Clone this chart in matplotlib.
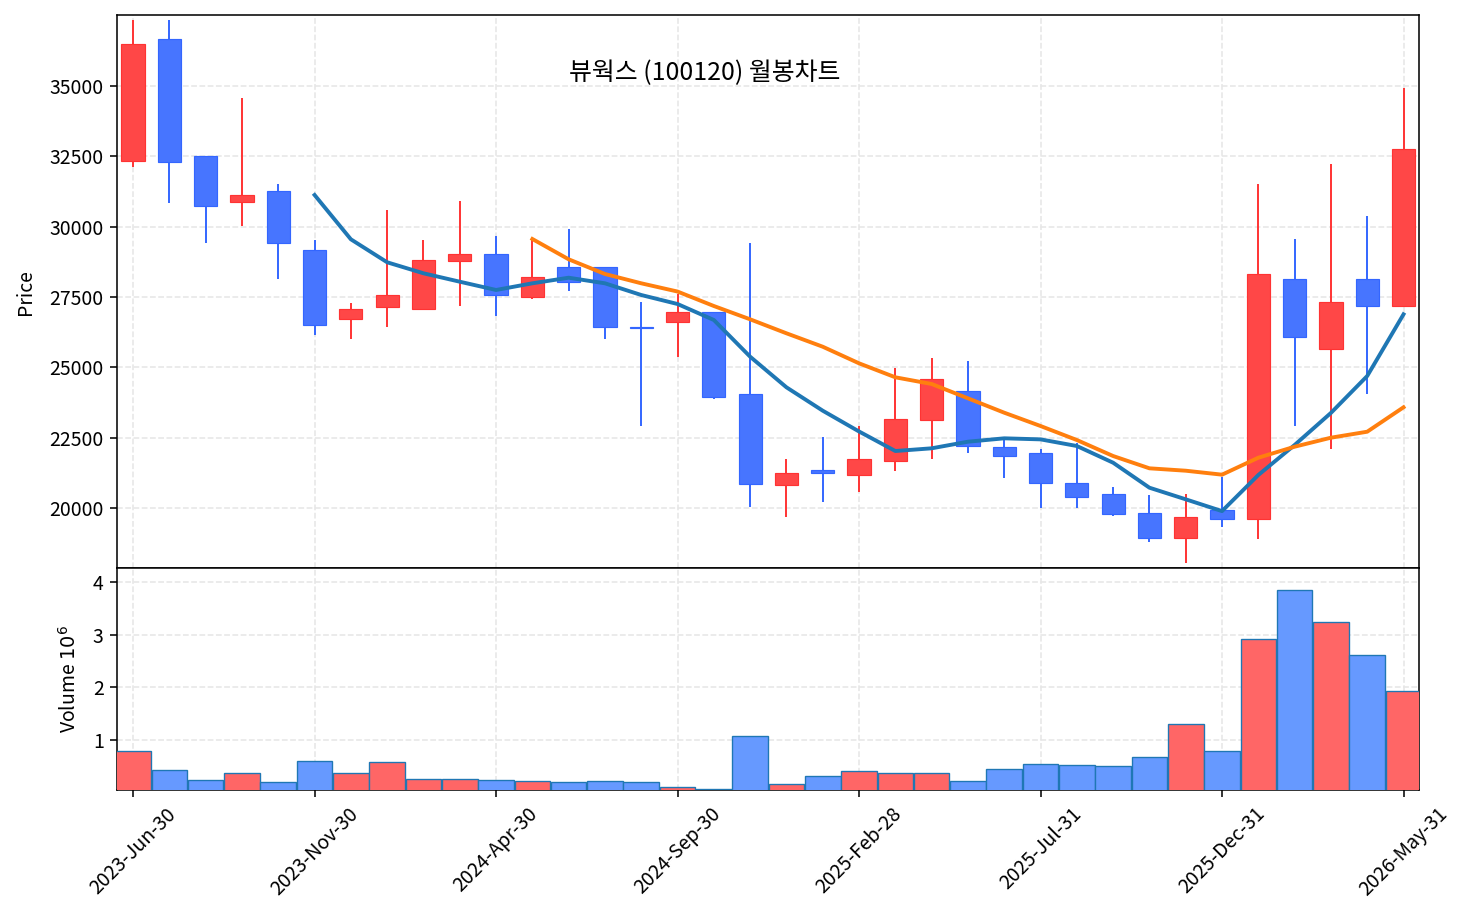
import numpy as np
import pandas as pd
import matplotlib
matplotlib.use('Agg')
import matplotlib.pyplot as plt

plt.rcParams['font.family'] = ['Noto Sans CJK KR', 'DejaVu Sans']
plt.rcParams['axes.unicode_minus'] = False

# monthly candles, 2023-06 .. 2026-05
dates = pd.date_range('2023-06-30', periods=36, freq='ME')
date_labels = [d.strftime('%Y-%b-%d') for d in dates]

opens = [32330, 36660, 32510, 30890, 31260, 29170, 26710, 27160, 27060, 28770,
         29020, 27510, 28560, 28580, 26440, 26600, 26980, 24040, 20820, 21350,
         21170, 21670, 23130, 24170, 22180, 21970, 20900, 20490, 19810, 18920,
         19920, 19610, 28140, 25640, 28150, 27170]
highs = [37350, 37350, 32510, 34570, 31520, 29530, 27280, 30590, 29530, 30910,
         29670, 29590, 29910, 28580, 27320, 27600, 26980, 29430, 21740, 22520,
         22920, 24970, 25320, 25230, 22400, 22100, 22300, 20740, 20460, 20500,
         21110, 31520, 29550, 32230, 30380, 34930]
lows = [32130, 30850, 29430, 30020, 28150, 26150, 26000, 26440, 27060, 27190,
        26840, 27440, 27720, 26000, 22920, 25380, 23880, 20050, 19690, 20220,
        20580, 21330, 21730, 21940, 21080, 20010, 20010, 19730, 18800, 18030,
        19340, 18910, 22920, 22110, 24040, 27170]
closes = [36480, 32290, 30720, 31130, 29410, 26490, 27060, 27560, 28820, 29020,
          27560, 28200, 28030, 26420, 26400, 26980, 23930, 20840, 21230, 21230,
          21730, 23150, 24580, 22200, 21850, 20880, 20390, 19790, 18920, 19690,
          19610, 28310, 26080, 27310, 27170, 32750]
# volume in millions of shares
volumes = [0.786, 0.425, 0.235, 0.368, 0.197, 0.596, 0.368, 0.577, 0.266, 0.266,
           0.235, 0.230, 0.197, 0.216, 0.197, 0.114, 0.065, 1.071, 0.158, 0.311,
           0.406, 0.380, 0.380, 0.216, 0.444, 0.539, 0.520, 0.501, 0.672, 1.299,
           0.786, 2.912, 3.843, 3.235, 2.609, 1.925]

# moving averages as drawn (6 and 12 months)
ma_short_start = 5
ma_short = [31126, 29551, 28734, 28343, 28044, 27750, 27987, 28186, 27987, 27571,
            27251, 26683, 25378, 24290, 23459, 22720, 22026, 22122, 22357, 22477,
            22440, 22204, 21610, 20722, 20309, 19890, 21173, 22240, 23380, 24692,
            26885]
ma_long_start = 11
ma_long = [29562, 28840, 28318, 27987, 27694, 27180, 26707, 26210, 25733, 25143,
           24646, 24408, 23899, 23388, 22915, 22417, 21848, 21411, 21326, 21185,
           21788, 22179, 22499, 22712, 23580]

title = '뷰웍스 (100120) 월봉차트'

o = np.array(opens)
c = np.array(closes)
x = np.arange(len(o))
up = c >= o

up_edge, down_edge = '#ff3333', '#3366ff'
up_fill, down_fill = '#ff4747', '#4775ff'
up_vol, down_vol = '#ff6666', '#6699ff'

fig = plt.figure(figsize=(10.5, 6.6), dpi=140)
W, H = 1470, 924
left, right = 117.3 / W, 1419.3 / W
ax = fig.add_axes([left, 1 - 568.3 / H, right - left, (568.3 - 15) / H])
axv = fig.add_axes([left, 1 - 790 / H, right - left, (790 - 568.3) / H], sharex=ax)

grid_kw = dict(linestyle='--', color='#e6e6e6', linewidth=0.8)

# wicks
ax.vlines(x, lows, highs, colors=np.where(up, up_edge, down_edge), linewidth=1.0, zorder=2)
# bodies
bottoms = np.minimum(o, c)
heights = np.maximum(np.abs(c - o), 30)
ax.bar(x, heights, bottom=bottoms, width=0.64,
       color=np.where(up, up_fill, down_fill),
       edgecolor=np.where(up, up_edge, down_edge), linewidth=0.6, zorder=3)

ax.plot(np.arange(ma_short_start, ma_short_start + len(ma_short)), ma_short,
        color='#1f77b4', linewidth=2.0, zorder=4)
ax.plot(np.arange(ma_long_start, ma_long_start + len(ma_long)), ma_long,
        color='#ff7f0e', linewidth=2.0, zorder=4)

ax.set_ylim(17857, 37524)
ax.set_yticks([20000, 22500, 25000, 27500, 30000, 32500, 35000])
ax.set_ylabel('Price', fontsize=10, labelpad=7)
ax.grid(True, **grid_kw)
ax.set_axisbelow(True)
ax.tick_params(labelbottom=False, labelsize=10)

axv.bar(x, volumes, width=0.98, color=np.where(up, up_vol, down_vol),
        edgecolor='#1f77b4', linewidth=0.7, zorder=3)
axv.set_ylim(0.05, 4.26)
axv.set_yticks([1, 2, 3, 4])
axv.set_ylabel('Volume $10^{6}$', fontsize=10, labelpad=6)
axv.grid(True, **grid_kw)
axv.set_axisbelow(True)
axv.tick_params(labelsize=10)

ticks = list(range(0, len(x), 5))
axv.set_xticks(ticks)
axv.set_xticklabels([date_labels[i] for i in ticks], rotation=45, ha='center')
axv.set_xlim(-0.435, len(x) - 1 + 0.435)

fig.text(705 / W, 1 - 73 / H, title, fontsize=12.8, ha='center', va='center')

fig.savefig('out.png', dpi=140)
